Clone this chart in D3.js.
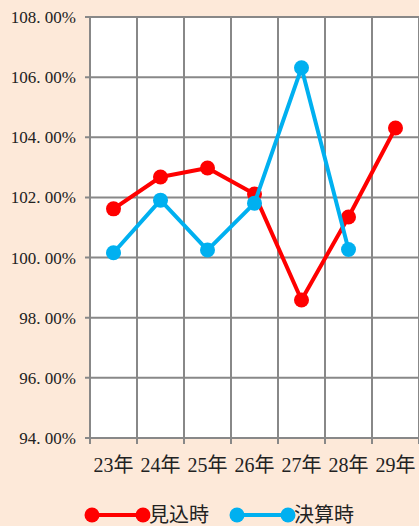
<!DOCTYPE html>
<html>
<head>
<meta charset="utf-8">
<script src="https://cdn.jsdelivr.net/npm/d3@7"></script>
<style>
  html, body { margin: 0; padding: 0; background: #FDE9D9; }
  svg { display: block; }
  text { font-family: "Liberation Serif", "Noto Sans CJK JP", serif; fill: #222; }
</style>
</head>
<body>
<div id="chart"></div>
<script>
// categories and series
const YEARS = ["23年", "24年", "25年", "26年", "27年", "28年", "29年"];
const MIKOMI = [101.62, 102.68, 102.98, 102.11, 98.59, 101.35, 104.31];
const KESSAN = [100.16, 101.91, 100.25, 101.81, 106.31, 100.27, null];
const Y_TICKS = [94, 96, 98, 100, 102, 104, 106, 108];

const SERIES = [
  { name: "見込時", color: "#FF0000", values: MIKOMI },
  { name: "決算時", color: "#00B0F0", values: KESSAN },
];

const W = 419, H = 526;
const margin = { top: 17, right: 0, bottom: 88, left: 90 };

const svg = d3.select("#chart").append("svg")
  .attr("width", W).attr("height", H);

svg.append("rect").attr("width", W).attr("height", H).attr("fill", "#FDE9D9");

const x = d3.scaleBand()
  .domain(YEARS)
  .range([margin.left, W - margin.right]);

const y = d3.scaleLinear()
  .domain([94, 108])
  .range([H - margin.bottom, margin.top]);

// plot area
svg.append("rect")
  .attr("x", margin.left).attr("y", margin.top)
  .attr("width", W - margin.right - margin.left)
  .attr("height", y(94) - y(108))
  .attr("fill", "#fff");

const gridColor = "#888888";

// horizontal grid lines
svg.append("g").selectAll("line")
  .data(Y_TICKS)
  .join("line")
  .attr("x1", margin.left - 5).attr("x2", W)
  .attr("y1", d => y(d)).attr("y2", d => y(d))
  .attr("stroke", gridColor).attr("stroke-width", 2);

// vertical grid lines at category boundaries
const bounds = YEARS.map(d => x(d)).concat([x(YEARS[YEARS.length - 1]) + x.bandwidth()]);
svg.append("g").selectAll("line")
  .data(bounds)
  .join("line")
  .attr("x1", d => d).attr("x2", d => d)
  .attr("y1", margin.top).attr("y2", y(94) + 6)
  .attr("stroke", gridColor).attr("stroke-width", 2);

// y tick labels (the original font puts a gap after the point)
svg.append("g").selectAll("text")
  .data(Y_TICKS)
  .join("text")
  .attr("x", margin.left - 14)
  .attr("y", d => y(d))
  .attr("dy", "0.35em")
  .attr("text-anchor", "end")
  .attr("font-size", 17)
  .text(d => d.toFixed(2).replace(".", ". ") + "%");

// x tick labels
svg.append("g").selectAll("text")
  .data(YEARS)
  .join("text")
  .attr("x", d => x(d) + x.bandwidth() / 2)
  .attr("y", y(94) + 34)
  .attr("text-anchor", "middle")
  .attr("font-size", 20)
  .text(d => d);

// series lines and markers
const line = d3.line()
  .defined(d => d.v != null)
  .x(d => x(d.year) + x.bandwidth() / 2)
  .y(d => y(d.v));

SERIES.forEach(s => {
  const pts = YEARS.map((year, i) => ({ year, v: s.values[i] }));
  const g = svg.append("g");
  g.append("path")
    .datum(pts)
    .attr("d", line)
    .attr("fill", "none")
    .attr("stroke", s.color)
    .attr("stroke-width", 4)
    .attr("stroke-linejoin", "round");
  g.selectAll("circle")
    .data(pts.filter(d => d.v != null))
    .join("circle")
    .attr("cx", d => x(d.year) + x.bandwidth() / 2)
    .attr("cy", d => y(d.v))
    .attr("r", 7.5)
    .attr("fill", s.color);
});

// legend
const legendY = 515;
const legendX = [92, 237];
SERIES.forEach((s, i) => {
  const g = svg.append("g").attr("transform", `translate(${legendX[i]},${legendY})`);
  g.append("line")
    .attr("x1", 0).attr("x2", 51)
    .attr("stroke", s.color).attr("stroke-width", 4);
  g.append("circle").attr("cx", 0).attr("r", 7.5).attr("fill", s.color);
  g.append("circle").attr("cx", 51).attr("r", 7.5).attr("fill", s.color);
  g.append("text")
    .attr("x", 57).attr("dy", "0.36em")
    .attr("font-size", 20)
    .text(s.name);
});
</script>
</body>
</html>
